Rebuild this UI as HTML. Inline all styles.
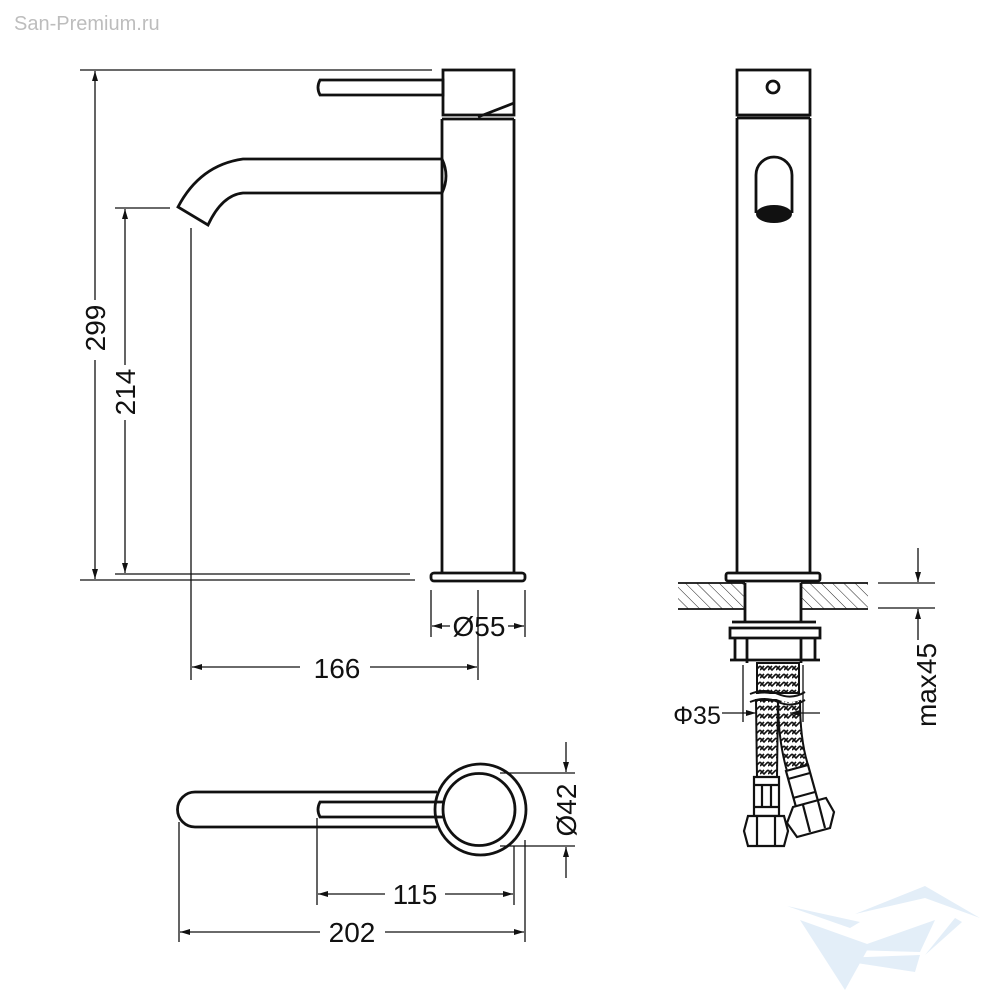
<!DOCTYPE html>
<html><head><meta charset="utf-8"><style>
html,body{margin:0;padding:0;background:#fff;}
svg{display:block;}
text{font-family:"Liberation Sans",sans-serif;fill:#111;}
</style></head><body>
<svg width="1000" height="1000" viewBox="0 0 1000 1000" xmlns="http://www.w3.org/2000/svg">
<defs>
<marker id="a" viewBox="0 0 10 6" refX="10" refY="3" markerWidth="14" markerHeight="6" markerUnits="userSpaceOnUse" orient="auto"><path d="M0,0 L10,3 L0,6 Z" fill="#111"/></marker>
<pattern id="hatch" width="8" height="8" patternUnits="userSpaceOnUse" patternTransform="rotate(-45)"><line x1="0" y1="0" x2="0" y2="8" stroke="#222" stroke-width="1"/></pattern>
<pattern id="braid" width="8" height="8" patternUnits="userSpaceOnUse"><path d="M0,2 L4,6 L8,2 M0,6 L4,2" stroke="#111" stroke-width="1.6" fill="none"/></pattern>
</defs>

<text x="14" y="30" font-size="20" style="fill:#bdbdbd">San-Premium.ru</text>

<!-- watermark logo -->
<g fill="#e3eef8">
<polygon points="855,914 925,886 980,918 925,898"/>
<polygon points="787,906 860,922 850,928"/>
<polygon points="850,950 935,920 920,952"/>
<polygon points="840,958 920,955 915,972 850,962"/>
<polygon points="800,920 870,945 845,990"/>
<polygon points="955,918 962,922 925,955"/>
</g>

<g stroke="#111" fill="none" stroke-width="2.8">
<!-- LEFT VIEW -->
<rect x="443" y="70" width="71" height="45"/>
<path d="M320,80 L443,80 L443,95 L320,95 Q316,87.5 320,80 Z"/>
<path d="M478,117 L514,103"/>
<path d="M442,119 L442,573 M514,119 L514,573 M442,119 L514,119"/>
<path d="M442,159 L243,159 Q200,165 178,207 L208,225 Q222,195 243,193 L442,193"/>
<path d="M442,159 Q450,176 442,193"/>
<rect x="431" y="573" width="94" height="8" rx="3"/>

<!-- RIGHT VIEW -->
<rect x="737" y="70" width="73" height="45"/>
<circle cx="773" cy="87" r="6"/>
<path d="M737,118 L810,118 M737,118 L737,573 M810,118 L810,573"/>
<path d="M756,213 L756,175 A18,18 0 0 1 792,175 L792,213"/>
<rect x="726" y="573" width="94" height="8" rx="2"/>
<path d="M745,583 L745,622 M801,583 L801,622"/>
<path d="M732,622 L816,622 M730,628 L820,628 L820,638 L730,638 Z M735,638 L735,660 M815,638 L815,660 M747,638 L747,663 M801,638 L801,663 M730,660 L820,660"/>
</g>
<ellipse cx="774" cy="214" rx="18" ry="9" fill="#111"/>

<!-- counter hatch -->
<rect x="678" y="583" width="67" height="26" fill="url(#hatch)" stroke="none"/>
<rect x="801" y="583" width="67" height="26" fill="url(#hatch)" stroke="none"/>
<path d="M678,583 L745,583 M801,583 L868,583 M678,609 L745,609 M801,609 L868,609" stroke="#111" stroke-width="1.8"/>

<!-- hoses -->
<rect x="757" y="663" width="42" height="30" fill="url(#braid)" stroke="#111" stroke-width="2"/>
<path d="M756,700 L778,700 L777,777 L757,777 Z" fill="url(#braid)" stroke="#111" stroke-width="2"/>
<path d="M778,700 L800,700 Q800,740 808,765 L787,771 Q778,740 778,700 Z" fill="url(#braid)" stroke="#111" stroke-width="2"/>
<path d="M750,694 Q765,688 778,694 Q792,700 805,692" stroke="#111" stroke-width="2" fill="none"/>
<path d="M750,698 Q765,692 778,698 Q792,704 805,696" stroke="#fff" stroke-width="3" fill="none"/>
<path d="M750,702 Q765,696 778,702 Q792,708 805,700" stroke="#111" stroke-width="2" fill="none"/>
<g stroke="#111" fill="#fff" stroke-width="2.2">
<path d="M754,777 L779,777 L779,816 L754,816 Z"/>
<path d="M754,785 L779,785 M754,807 L779,807 M762,785 L762,807 M771,785 L771,807" fill="none"/>
<path d="M786,771 L808,765 L818,801 L796,807 Z"/>
<path d="M788,779 L810,773 M793,798 L815,792" fill="none"/>
<path d="M744,831 L748,816 L784,816 L788,831 L784,846 L748,846 Z"/>
<path d="M757,816 L757,846 M775,816 L775,846" fill="none"/>
<path d="M787,823 L793,807 L826,798 L834,812 L830,828 L797,837 Z"/>
<path d="M803,805 L810,832 M818,801 L825,828" fill="none"/>
</g>

<!-- BOTTOM VIEW -->
<g stroke="#111" fill="none" stroke-width="2.8">
<circle cx="480.5" cy="809.5" r="45.5"/>
<circle cx="479" cy="809.5" r="36"/>
<path d="M437,792 L195,792 A17.5,17.5 0 0 0 195,827 L437,827"/>
<path d="M443,802 L320,802 Q316,809.5 320,817 L443,817"/>
</g>

<!-- DIMENSIONS -->
<g stroke="#111" stroke-width="1.3" fill="none">
<path d="M80,70 L432,70 M80,580 L415,580 M115,208 L170,208 M115,574 L410,574"/>
<line x1="95" y1="300" x2="95" y2="71" marker-end="url(#a)"/>
<line x1="95" y1="360" x2="95" y2="579" marker-end="url(#a)"/>
<line x1="125" y1="365" x2="125" y2="209" marker-end="url(#a)"/>
<line x1="125" y1="420" x2="125" y2="573" marker-end="url(#a)"/>
<path d="M191,228 L191,680 M478,590 L478,680"/>
<line x1="300" y1="667" x2="192" y2="667" marker-end="url(#a)"/>
<line x1="370" y1="667" x2="477" y2="667" marker-end="url(#a)"/>
<path d="M431,590 L431,637 M525,590 L525,637"/>
<line x1="450" y1="626" x2="432" y2="626" marker-end="url(#a)"/>
<line x1="508" y1="626" x2="524" y2="626" marker-end="url(#a)"/>
<path d="M878,583 L935,583 M878,608 L935,608"/>
<line x1="918" y1="548" x2="918" y2="582" marker-end="url(#a)"/>
<line x1="918" y1="640" x2="918" y2="609" marker-end="url(#a)"/>
<path d="M743,665 L743,722 M803,665 L803,722"/>
<line x1="722" y1="713" x2="756" y2="713" marker-end="url(#a)"/>
<line x1="820" y1="713" x2="790" y2="713" marker-end="url(#a)"/>
<path d="M500,773 L575,773 M500,846 L575,846"/>
<line x1="566" y1="742" x2="566" y2="772" marker-end="url(#a)"/>
<line x1="566" y1="878" x2="566" y2="847" marker-end="url(#a)"/>
<path d="M317,818 L317,905 M514,846 L514,905 M179,822 L179,942 M525,840 L525,942"/>
<line x1="385" y1="894" x2="318" y2="894" marker-end="url(#a)"/>
<line x1="445" y1="894" x2="513" y2="894" marker-end="url(#a)"/>
<line x1="320" y1="932" x2="180" y2="932" marker-end="url(#a)"/>
<line x1="385" y1="932" x2="524" y2="932" marker-end="url(#a)"/>
</g>

<g font-size="28">
<text transform="translate(105,328) rotate(-90)" text-anchor="middle">299</text>
<text transform="translate(135,392) rotate(-90)" text-anchor="middle">214</text>
<text x="337" y="678" text-anchor="middle">166</text>
<text x="479" y="636" text-anchor="middle">Ø55</text>
<text x="697" y="724" text-anchor="middle" font-size="25">Φ35</text>
<text transform="translate(936,685) rotate(-90)" text-anchor="middle">max45</text>
<text transform="translate(576,810) rotate(-90)" text-anchor="middle">Ø42</text>
<text x="415" y="904" text-anchor="middle">115</text>
<text x="352" y="942" text-anchor="middle">202</text>
</g>
</svg>
</body></html>
